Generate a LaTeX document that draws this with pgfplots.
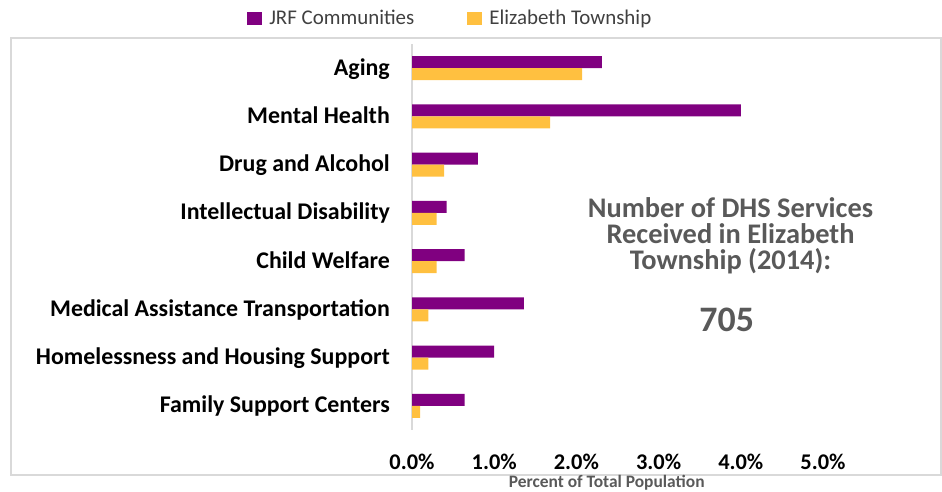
\documentclass[border=0pt]{standalone}
\usepackage{pgfplots}
\pgfplotsset{compat=1.18}
\usepackage{fontspec}
\setmainfont{Carlito}
\definecolor{jrf}{RGB}{128,0,128}
\definecolor{eliz}{RGB}{255,192,64}
\definecolor{annot}{RGB}{89,89,89}
\definecolor{framegray}{RGB}{217,217,217}
\definecolor{leggray}{RGB}{64,64,64}
\begin{document}
\begin{tikzpicture}[x=1bp,y=1bp]
\useasboundingbox (0,0) rectangle (942,492);
\draw[framegray, line width=2bp] (11,17) rectangle (941,454);
\begin{axis}[
  at={(412bp,62bp)}, anchor=south west,
  scale only axis, width=411bp, height=386bp,
  xmin=0, xmax=5, ymin=-0.5, ymax=7.5,
  xbar, bar width=12bp,
  axis lines*=left,
  x axis line style={draw=none},
  y axis line style={draw=framegray, line width=1.5bp, -},
  major tick length=0pt,
  ytick={0,1,2,3,4,5,6,7},
  yticklabels={Family Support Centers, Homelessness and Housing Support, Medical Assistance Transportation, Child Welfare, Intellectual Disability, Drug and Alcohol, Mental Health, Aging},
  xtick={0,1,2,3,4,5},
  xticklabels={0.0\%,1.0\%,2.0\%,3.0\%,4.0\%,5.0\%},
  tick label style={text=black},
  yticklabel style={font=\bfseries\fontsize{24}{24}\selectfont, inner sep=0pt, anchor=base east, xshift=-22bp, yshift=-7bp},
  xticklabel style={font=\bfseries\fontsize{22.5}{22.5}\selectfont, inner sep=0pt, anchor=base, yshift=-40bp},
  legend columns=2,
  legend style={at={(-0.4007,1.0666)}, anchor=west, draw=none, fill=none,
    inner sep=0pt, outer sep=0pt,
    nodes={inner sep=0pt},
    font=\fontsize{21}{21}\selectfont, text=leggray,
    /tikz/every odd column/.append style={column sep=7bp},
    /tikz/every even column/.append style={column sep=53bp}},
  legend image code/.code={\fill[#1] (0bp,-6.5bp) rectangle (15bp,6.5bp);},
]
\addplot[fill=jrf, draw=none, bar shift=6bp] coordinates {
  (0.64,0) (1.00,1) (1.36,2) (0.64,3) (0.42,4) (0.80,5) (4.00,6) (2.31,7)};
\addlegendentry{JRF Communities}
\addplot[fill=eliz, draw=none, bar shift=-6bp] coordinates {
  (0.10,0) (0.20,1) (0.20,2) (0.30,3) (0.30,4) (0.39,5) (1.68,6) (2.07,7)};
\addlegendentry{Elizabeth Township}
\end{axis}
\begin{scope}[every node/.style={annot, anchor=base, inner sep=0pt, font=\bfseries\fontsize{28.5}{28.5}\selectfont}]
\node at (730.5,274) {Number of DHS Services};
\node at (730.5,248) {Received in Elizabeth};
\node at (730.5,222) {Township (2014):};
\end{scope}
\node[annot, anchor=base, inner sep=0pt, font=\bfseries\fontsize{36}{36}\selectfont] at (726.7,160.3) {705};
\node[annot, anchor=base, inner sep=0pt, font=\bfseries\fontsize{17.5}{17.5}\selectfont] at (606.7,4.2) {Percent of Total Population};
\end{tikzpicture}
\end{document}
